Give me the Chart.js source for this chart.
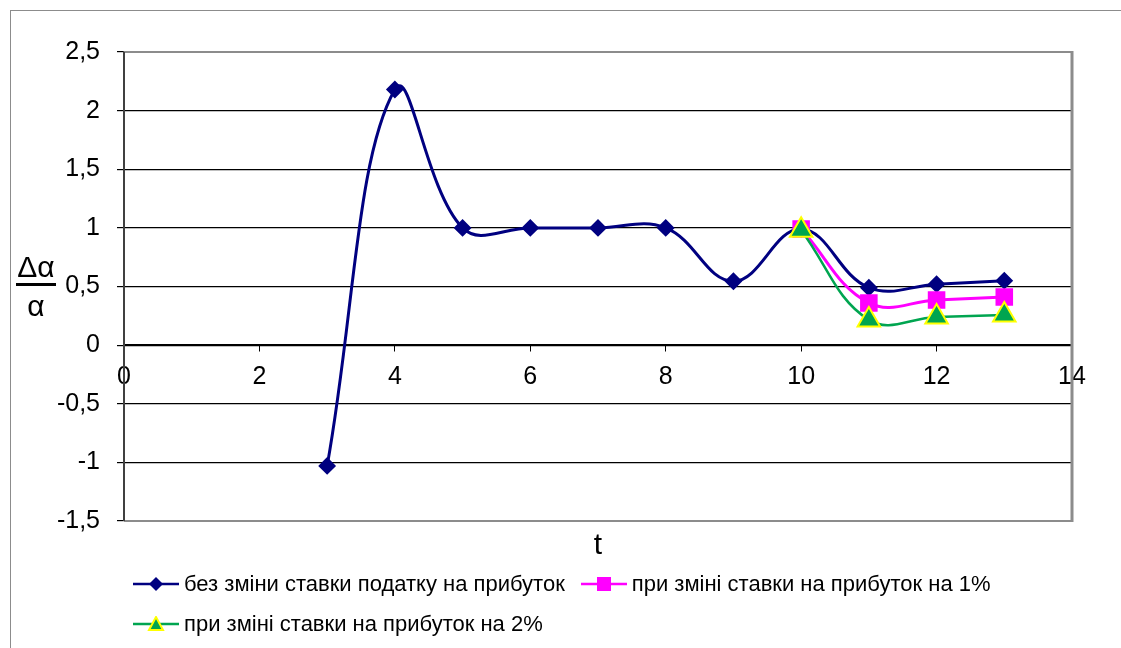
<!DOCTYPE html>
<html>
<head>
<meta charset="utf-8">
<script src="https://cdn.jsdelivr.net/npm/chart.js@4"></script>
<style>
  body { margin: 0; background: #fff; }
  #wrap { position: relative; width: 1121px; height: 648px; overflow: hidden; font-family: "Liberation Sans", Arial, sans-serif; }
  #frame { position: absolute; left: 10px; top: 10px; width: 1200px; height: 700px; border: 1px solid #8c8c8c; }
  #chart { position: absolute; left: 0; top: 0; }
  .frac { position: absolute; font-size: 30px; color: #000; text-align: center; width: 40px; left: 16px; }
  #num { top: 251px; border-bottom: 3px solid #000; line-height: 32px; }
  #den { top: 290px; line-height: 32px; }
  #legend { position: absolute; left: 133px; top: 564px; font-size: 22px; color: #000; }
  .row { height: 40px; display: flex; align-items: center; }
  .item { display: flex; align-items: center; margin-right: 16px; }
  .item svg { margin-right: 5px; }
</style>
</head>
<body>
<div id="wrap">
  <div id="frame"></div>
  <canvas id="chart" width="1121" height="648"></canvas>
  <div class="frac" id="num">Δα</div>
  <div class="frac" id="den">α</div>
  <div id="legend"></div>
</div>
<script>
// time steps and relative change of the ratio
const tAll = [3, 4, 5, 6, 7, 8, 9, 10, 11, 12, 13];
const noChange = [-1.03, 2.18, 1.0, 1.0, 1.0, 1.0, 0.545, 0.99, 0.49, 0.52, 0.55];
const tTail = [10, 11, 12, 13];
const rate1 = [0.99, 0.36, 0.385, 0.41];
const rate2 = [0.98, 0.215, 0.24, 0.256];
const seriesNames = [
    'без зміни ставки податку на прибуток',
    'при зміні ставки на прибуток на 1%',
    'при зміні ставки на прибуток на 2%'
];
const xTicks = [0, 2, 4, 6, 8, 10, 12, 14];
const yTicks = [-1.5, -1, -0.5, 0, 0.5, 1, 1.5, 2, 2.5];

function pts(xs, ys) {
    return xs.map((x, i) => ({ x: x, y: ys[i] }));
}

const series = [
    { label: seriesNames[0], data: pts(tAll, noChange), color: '#000080', border: '#000080', style: 'rectRot', r: 7.5, order: 2, lw: 3 },
    { label: seriesNames[1], data: pts(tTail, rate1), color: '#ff00ff', border: '#ff00ff', style: 'rect', r: 11, order: 1, lw: 3 },
    { label: seriesNames[2], data: pts(tTail, rate2), color: '#00a550', border: '#ffff00', style: 'triangle', r: 13, order: 0, lw: 2.5 }
];

// grey frame round the plot area
const plotFrame = {
    id: 'plotFrame',
    beforeDatasetsDraw(chart) {
        const a = chart.chartArea;
        const c = chart.ctx;
        c.save();
        c.strokeStyle = '#8c8c8c';
        c.lineWidth = 2;
        c.beginPath();
        c.moveTo(a.left, a.top);
        c.lineTo(a.right, a.top);
        c.moveTo(a.left, a.bottom);
        c.lineTo(a.right, a.bottom);
        c.stroke();
        c.lineWidth = 3;
        c.beginPath();
        c.moveTo(a.right, a.top - 1);
        c.lineTo(a.right, a.bottom + 1);
        c.stroke();
        c.strokeStyle = '#404040';
        c.lineWidth = 2;
        c.beginPath();
        c.moveTo(a.left, a.top);
        c.lineTo(a.left, a.bottom);
        c.stroke();
        // axis title under the plot
        c.fillStyle = '#000';
        c.font = '30px "Liberation Sans", Arial, sans-serif';
        c.textAlign = 'center';
        c.textBaseline = 'middle';
        c.fillText('t', (a.left + a.right) / 2, a.bottom + 25);
        c.restore();
    }
};

Chart.defaults.font.family = '"Liberation Sans", Arial, sans-serif';
Chart.defaults.color = '#000';

const chart = new Chart(document.getElementById('chart'), {
    type: 'line',
    data: {
        datasets: series.map(s => ({
            label: s.label,
            data: s.data,
            borderColor: s.color,
            backgroundColor: s.color,
            borderWidth: s.lw,
            tension: 0.4,
            pointStyle: s.style,
            pointRadius: s.r,
            pointHoverRadius: s.r,
            pointBackgroundColor: s.color,
            pointBorderColor: s.border,
            pointBorderWidth: 2,
            order: s.order,
            fill: false
        }))
    },
    options: {
        responsive: false,
        animation: false,
        layout: { padding: { left: 0, right: 49, top: 52, bottom: 127 } },
        plugins: { legend: { display: false }, tooltip: { enabled: false } },
        scales: {
            x: {
                type: 'linear',
                position: { y: 0 },
                min: 0,
                max: 14,
                afterBuildTicks: s => { s.ticks = xTicks.map(v => ({ value: v })); },
                ticks: { font: { size: 25 }, padding: 11, maxRotation: 0 },
                grid: { drawOnChartArea: false, drawTicks: true, tickLength: 6, color: '#000' },
                border: { color: '#000', width: 1.5 }
            },
            y: {
                min: -1.5,
                max: 2.5,
                afterBuildTicks: s => { s.ticks = yTicks.map(v => ({ value: v })); },
                afterFit: s => { s.width = 124; },
                ticks: {
                    font: { size: 25 },
                    padding: 17,
                    callback: v => String(v).replace('.', ',')
                },
                grid: { color: '#000', lineWidth: 1.2, tickLength: 7 },
                border: { color: '#404040', width: 2 }
            }
        }
    },
    plugins: [plotFrame]
});

// legend rows: line with the series marker, then its name
function markerSvg(s) {
    const cx = 23, cy = 8;
    let m = '';
    if (s.style === 'rectRot') {
        m = `<polygon points="${cx},${cy - 7} ${cx + 7},${cy} ${cx},${cy + 7} ${cx - 7},${cy}" fill="${s.color}"/>`;
    } else if (s.style === 'rect') {
        m = `<rect x="${cx - 7}" y="${cy - 7}" width="14" height="14" fill="${s.color}"/>`;
    } else {
        m = `<polygon points="${cx},${cy - 7} ${cx + 7},${cy + 6} ${cx - 7},${cy + 6}" fill="${s.color}" stroke="${s.border}" stroke-width="2"/>`;
    }
    return `<svg width="46" height="16"><line x1="0" y1="${cy}" x2="46" y2="${cy}" stroke="${s.color}" stroke-width="2.5"/>${m}</svg>`;
}

const legend = document.getElementById('legend');
const rows = [[series[0], series[1]], [series[2]]];
rows.forEach(r => {
    const row = document.createElement('div');
    row.className = 'row';
    r.forEach(s => {
        const it = document.createElement('div');
        it.className = 'item';
        it.innerHTML = markerSvg(s) + '<span>' + s.label + '</span>';
        row.appendChild(it);
    });
    legend.appendChild(row);
});
</script>
</body>
</html>
